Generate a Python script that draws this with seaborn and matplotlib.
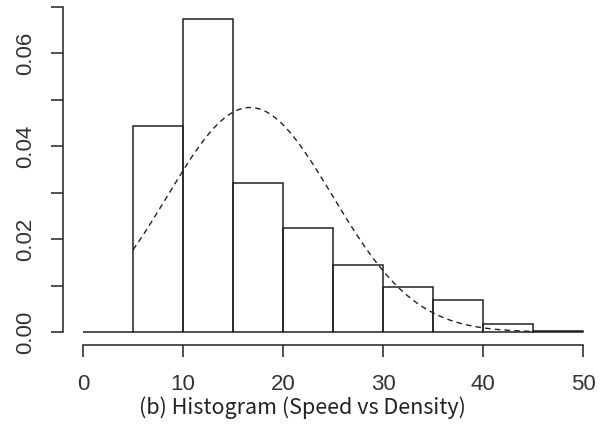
import numpy as np
import matplotlib
matplotlib.use("Agg")
import matplotlib.pyplot as plt
import seaborn as sns

# histogram: bin edges and density heights
bin_edges = [0, 5, 10, 15, 20, 25, 30, 35, 40, 45, 50]
bin_density = [0.0, 0.0443, 0.0674, 0.0321, 0.0225, 0.0145, 0.0097, 0.0068, 0.0017, 0.0003]

# fitted normal curve (dashed)
fit_mean = 16.7
fit_sd = 8.25
curve_from, curve_to = 5, 45

x_ticks = [0, 10, 20, 30, 40, 50]
y_ticks = [0.00, 0.01, 0.02, 0.03, 0.04, 0.05, 0.06, 0.07]
y_ticklabels = ["0.00", "", "0.02", "", "0.04", "", "0.06", ""]
caption = "(b) Histogram (Speed vs Density)"

sns.set_style("white")
plt.rcParams["font.family"] = ["Liberation Sans", "DejaVu Sans"]

fig = plt.figure(figsize=(6.05, 4.25), dpi=100)
ax = fig.add_axes([63 / 605, 80 / 425, 540 / 605, 351 / 425])

centers = [(a + b) / 2 for a, b in zip(bin_edges[:-1], bin_edges[1:])]
sns.histplot(x=centers, weights=bin_density, bins=bin_edges, stat="count",
             fill=False, element="bars", color="#222222", linewidth=1.1, ax=ax)

xs = np.linspace(curve_from, curve_to, 300)
ys = np.exp(-(xs - fit_mean) ** 2 / (2 * fit_sd ** 2)) / (fit_sd * np.sqrt(2 * np.pi))
sns.lineplot(x=xs, y=ys, color="#222222", linewidth=1.0, linestyle=(0, (4, 3)), ax=ax)

ax.set_xlim(-2, 52)
ax.set_ylim(-0.0028, 0.0728)
ax.set_xlabel("")
ax.set_ylabel("")
for s in ["top", "right"]:
    ax.spines[s].set_visible(False)
ax.spines["left"].set_bounds(0, 0.07)
ax.spines["bottom"].set_bounds(0, 50)
for s in ["left", "bottom"]:
    ax.spines[s].set_color("#222222")
    ax.spines[s].set_linewidth(1.1)

ax.set_xticks(x_ticks)
ax.set_xticklabels([str(t) for t in x_ticks])
ax.set_yticks(y_ticks)
ax.set_yticklabels(y_ticklabels, rotation=90, va="center")
ax.tick_params(axis="both", direction="out", length=8.6, width=1.1, color="#222222",
               labelsize=16, labelcolor="#333333", left=True, bottom=True)
ax.tick_params(axis="x", pad=12)
ax.tick_params(axis="y", pad=11)

fig.text(302 / 605, 1 - 408 / 425, caption, ha="center", va="center", fontsize=15.5,
         color="#222222", family=["Noto Sans CJK KR", "DejaVu Sans"])

fig.savefig("out.png", dpi=100)
